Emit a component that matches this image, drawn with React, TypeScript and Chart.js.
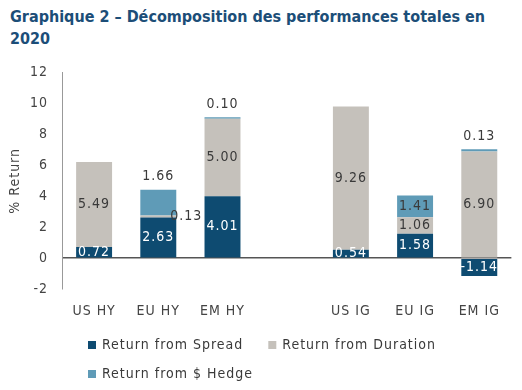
import React, { useEffect, useRef } from "react";
import { Chart, registerables } from "chart.js";

Chart.register(...registerables);

const FONT = '"DejaVu Sans Condensed", "Liberation Sans Narrow", "DejaVu Sans", sans-serif';

const titleLines = ["Graphique 2 – Décomposition des performances totales en", "2020"];
const categories = ["US HY", "EU HY", "EM HY", "", "US IG", "EU IG", "EM IG"];
const seriesNames = ["Return from Spread", "Return from Duration", "Return from $ Hedge"];
const spread = [0.72, 2.63, 4.01, null, 0.54, 1.58, -1.14];
const duration = [5.49, 0.13, 5.0, null, 9.26, 1.06, 6.9];
const hedge = [null, 1.66, 0.1, null, null, 1.41, 0.13];
const yMin = -2;
const yMax = 12;
const yStep = 2;

const seriesColors = ["#0E4B71", "#C5C1BB", "#5F9BB7"];
const labelColors = ["#FFFFFF", "#3A3A3A", "#3A3A3A"];
// label placement per series per category
const placements = [
  ["center", "center", "center", "", "center", "center", "center"],
  ["center", "right", "center", "", "center", "center", "center"],
  ["", "top", "top", "", "", "center", "top"],
];

const SPACING = "1px";

const spacingPlugin = {
  id: "letterSpacing",
  beforeUpdate(chart: any) {
    chart.ctx.letterSpacing = SPACING;
  },
  beforeLayout(chart: any) {
    chart.ctx.letterSpacing = SPACING;
  },
  beforeDraw(chart: any) {
    chart.ctx.letterSpacing = SPACING;
  },
};

const labelPlugin = {
  id: "segLabels",
  afterDatasetsDraw(chart: any) {
    const ctx = chart.ctx;
    ctx.save();
    ctx.font = `14px ${FONT}`;
    ctx.textAlign = "center";
    ctx.textBaseline = "middle";
    chart.data.datasets.forEach((ds: any, di: number) => {
      const meta = chart.getDatasetMeta(di);
      meta.data.forEach((bar: any, i: number) => {
        const v = ds.data[i];
        if (v == null) return;
        const place = placements[di][i];
        const p = bar.getProps(["x", "y", "base", "width"], true);
        let tx = p.x;
        let ty = (p.y + p.base) / 2;
        if (place === "top") ty = Math.min(p.y, p.base) - 13;
        if (place === "right") tx = p.x + p.width / 2 + 10;
        ctx.fillStyle = place === "center" ? labelColors[di] : "#3A3A3A";
        ctx.fillText(v.toFixed(2), tx, ty);
      });
    });
    ctx.restore();
  },
};

const legendPlugin = {
  id: "customLegend",
  afterDraw(chart: any) {
    const ctx = chart.ctx;
    ctx.save();
    ctx.font = `14px ${FONT}`;
    ctx.textBaseline = "middle";
    ctx.textAlign = "left";
    const rows = [[0, 1], [2]];
    const rowY = [chart.height - 37, chart.height - 8];
    rows.forEach((row, r) => {
      let x = 80;
      row.forEach((di) => {
        const y = rowY[r];
        ctx.fillStyle = seriesColors[di];
        ctx.fillRect(x, y - 4, 8, 8);
        ctx.fillStyle = "#3A3A3A";
        const label = chart.data.datasets[di].label;
        ctx.fillText(label, x + 14, y);
        x += 14 + ctx.measureText(label).width + 25;
      });
    });
    ctx.restore();
  },
};

export default function App() {
  const ref = useRef<HTMLCanvasElement | null>(null);
  useEffect(() => {
    if (!ref.current) return;
    const chart = new Chart(ref.current, {
      type: "bar",
      data: {
        labels: categories,
        datasets: [spread, duration, hedge].map((d, i) => ({
          label: seriesNames[i],
          data: d,
          backgroundColor: seriesColors[i],
          borderWidth: 0,
          barPercentage: 0.56,
          categoryPercentage: 1,
        })),
      },
      options: {
        animation: false,
        responsive: true,
        maintainAspectRatio: false,
        layout: { padding: { left: 2, right: 1, top: 11, bottom: 48 } },
        plugins: {
          legend: { display: false },
          tooltip: { enabled: false },
          title: { display: false },
        },
        scales: {
          x: {
            stacked: true,
            grid: { display: false, drawTicks: false },
            border: { display: false },
            ticks: { color: "#444", font: { family: FONT, size: 14 }, padding: 14 },
          },
          y: {
            stacked: true,
            min: yMin,
            max: yMax,
            ticks: { stepSize: yStep, color: "#444", font: { family: FONT, size: 14 }, padding: 14 },
            grid: {
              drawTicks: false,
              color: (c: any) => (c.tick && c.tick.value === 0 ? "#555" : "transparent"),
              lineWidth: 1.5,
            },
            border: { display: true, color: "#999", width: 1 },
            title: { display: true, text: "% Return", color: "#444", font: { family: FONT, size: 14 }, padding: { top: -3, bottom: 0 } },
            afterFit: (s: any) => {
              s.width = 52;
            },
          },
        },
      },
      plugins: [spacingPlugin, labelPlugin, legendPlugin],
    });
    return () => chart.destroy();
  }, []);
  return (
    <div style={{ width: 506 }}>
      <div
        style={{
          fontFamily: FONT,
          fontSize: 16,
          fontWeight: 600,
          lineHeight: "22px",
          color: "#1C4E78",
          marginTop: -2,
          paddingLeft: 2,
          height: 44,
        }}
      >
        {titleLines.map((t, i) => (
          <div key={i}>{t}</div>
        ))}
      </div>
      <div style={{ width: 506, height: 332 }}>
        <canvas ref={ref} />
      </div>
    </div>
  );
}
